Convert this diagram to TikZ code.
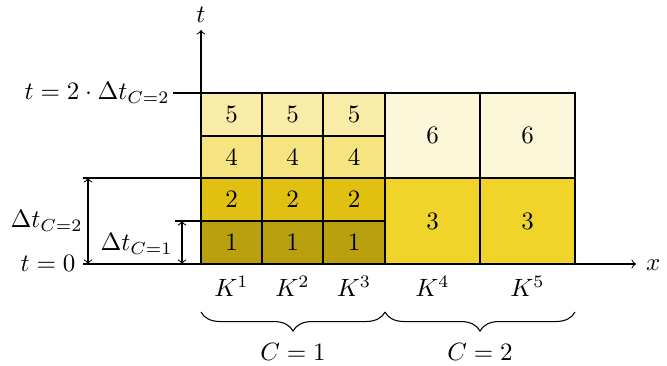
\documentclass[tikz,border=0pt]{standalone}
\usetikzlibrary{decorations.pathreplacing}
\definecolor{cA}{RGB}{185,160,15}
\definecolor{cB}{RGB}{224,192,16}
\definecolor{cC}{RGB}{240,212,42}
\definecolor{cD}{RGB}{246,228,128}
\definecolor{cE}{RGB}{249,236,168}
\definecolor{cF}{RGB}{253,247,218}
\tikzset{
  cell/.style={draw=black, line width=0.8pt},
  thin line/.style={line width=0.45pt},
  dimarrow/.style={<->, line width=0.45pt},
  bracestyle/.style={decorate, decoration={brace, mirror, amplitude=8pt}, line width=0.45pt},
  lbl/.style={inner sep=1pt}
}
\begin{document}
\begin{tikzpicture}[x=0.42pt, y=-0.42pt, every node/.append style={scale=1.05}]
\useasboundingbox (0,0) rectangle (667,365);
% cells C=1
\foreach \i/\xa/\xb in {1/201/262, 2/262/323, 3/323/385} {
  \draw[cell, fill=cA] (\xa,221) rectangle (\xb,264);
  \draw[cell, fill=cB] (\xa,178) rectangle (\xb,221);
  \draw[cell, fill=cD] (\xa,136) rectangle (\xb,178);
  \draw[cell, fill=cE] (\xa,93) rectangle (\xb,136);
  \node (a1\i) at ({(\xa+\xb)/2},242.5) {$1$};
  \node (a2\i) at ({(\xa+\xb)/2},199.5) {$2$};
  \node (a4\i) at ({(\xa+\xb)/2},157) {$4$};
  \node (a5\i) at ({(\xa+\xb)/2},114.5) {$5$};
}
% cells C=2
\foreach \i/\xa/\xb in {4/385/480, 5/480/575} {
  \draw[cell, fill=cC] (\xa,178) rectangle (\xb,264);
  \draw[cell, fill=cF] (\xa,93) rectangle (\xb,178);
  \node (b3\i) at ({(\xa+\xb)/2},221) {$3$};
  \node (b6\i) at ({(\xa+\xb)/2},135.5) {$6$};
}
% axes
\coordinate (xs) at (83,264);
\coordinate (xe) at (636,264);
\coordinate (ys) at (201,264);
\coordinate (ye) at (201,30);
\draw[thin line, ->] (xs) -- (xe);
\draw[thin line, ->] (ys) -- (ye);
\node[lbl, anchor=west] (xl) at (643,265) {$x$};
\node[lbl] (tl) at (201,15) {$t$};
% horizontal guide lines
\coordinate (g1s) at (173,93);  \coordinate (g1e) at (201,93);
\coordinate (g2s) at (83,178);  \coordinate (g2e) at (201,178);
\coordinate (g3s) at (175,221); \coordinate (g3e) at (201,221);
\draw[thin line] (g1s) -- (g1e);
\draw[thin line] (g2s) -- (g2e);
\draw[thin line] (g3s) -- (g3e);
% dimension arrows
\coordinate (d1t) at (88,178); \coordinate (d1b) at (88,264);
\coordinate (d2t) at (182,221); \coordinate (d2b) at (182,264);
\draw[dimarrow] (d1t) -- (d1b);
\draw[dimarrow] (d2t) -- (d2b);
% left labels
\node[lbl, anchor=east] (tmax) at (172.5,93) {$t = 2\cdot\Delta t_{C=2}$};
\node[lbl, anchor=east] (dt2) at (85.5,221) {$\Delta t_{C=2}$};
\node[lbl, anchor=east] (t0) at (78.5,263) {$t = 0$};
\node[lbl, anchor=east] (dt1) at (175.5,244) {$\Delta t_{C=1}$};
% K labels
\node (k1) at (231.5,286) {$K^1$};
\node (k2) at (292.5,286) {$K^2$};
\node (k3) at (354,286) {$K^3$};
\node (k4) at (432.5,286) {$K^4$};
\node (k5) at (527.5,286) {$K^5$};
% braces
\coordinate (b1s) at (201,312); \coordinate (b1e) at (385,312);
\coordinate (b2s) at (385,312); \coordinate (b2e) at (575,312);
\draw[bracestyle] (b1s) -- (b1e);
\draw[bracestyle] (b2s) -- (b2e);
\node (c1) at (293,352) {$C = 1$};
\node (c2) at (480,352) {$C = 2$};
\end{tikzpicture}
\end{document}
